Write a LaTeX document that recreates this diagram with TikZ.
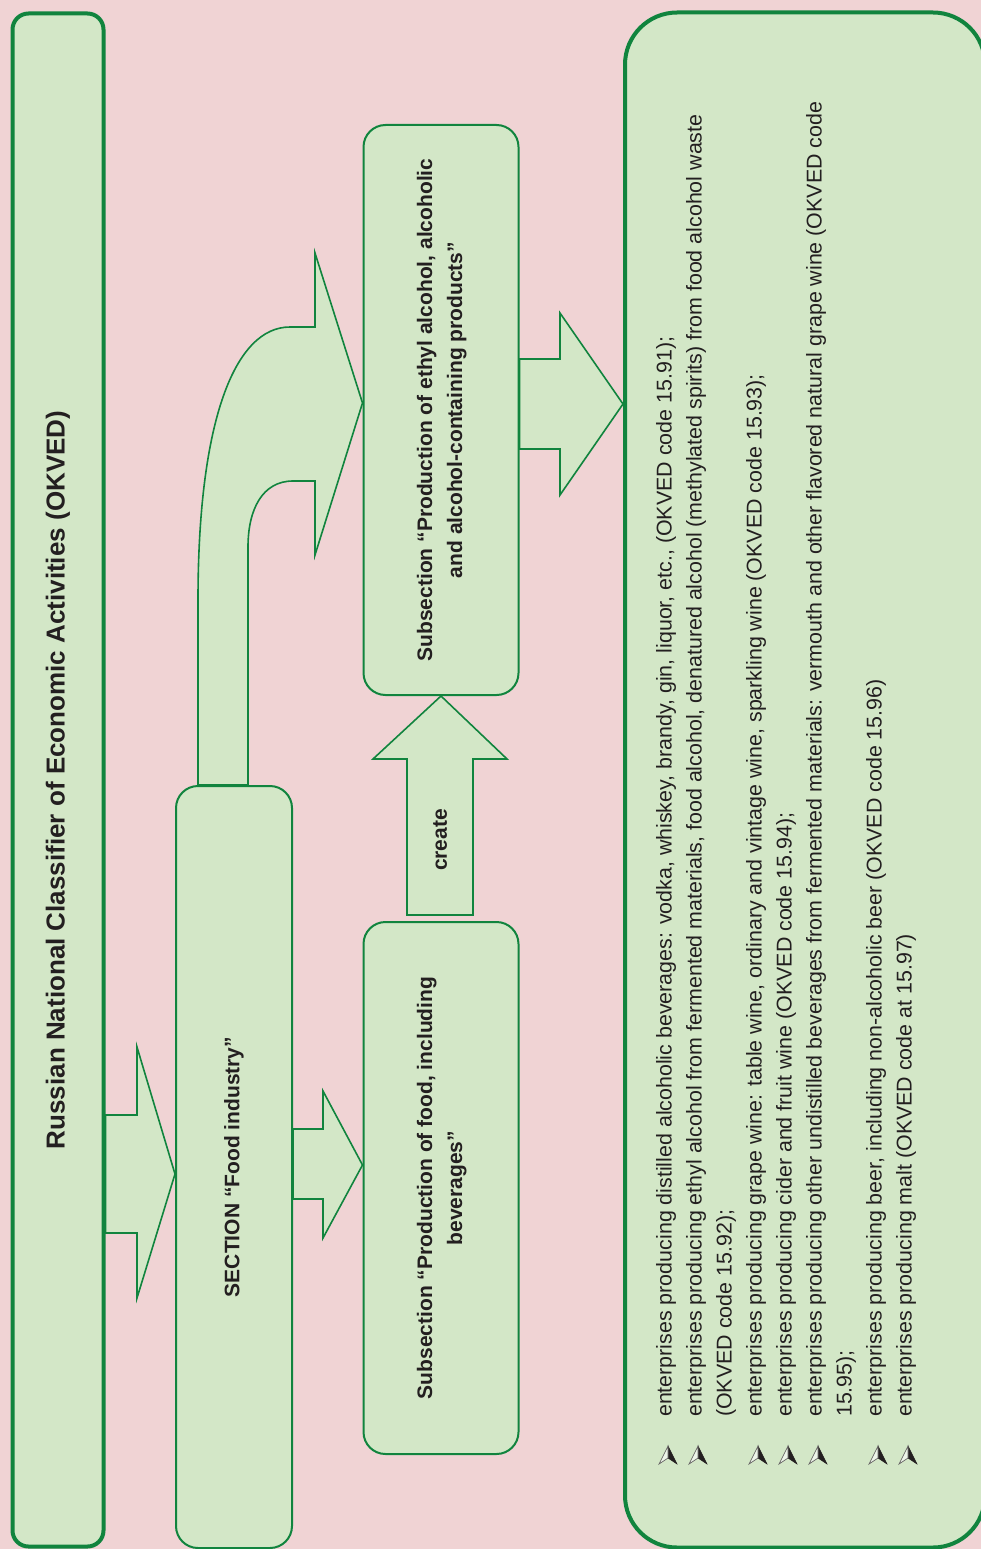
\documentclass[tikz,border=0pt]{standalone}
\usepackage{fontspec}
\setmainfont{Liberation Sans}
\usepackage{graphicx}
\usepackage{tikz}
\usetikzlibrary{positioning,calc}
\definecolor{bgpink}{RGB}{240,211,212}
\definecolor{boxgreen}{RGB}{211,231,199}
\definecolor{linegreen}{RGB}{17,132,62}
\definecolor{textgray}{RGB}{35,31,32}
\tikzset{
	box/.style={draw=linegreen, fill=boxgreen, line width=2pt, rounded corners=22, inner sep=0pt, text=textgray, font=\fontsize{21}{30}\selectfont\bfseries}, % the green boxes
	bigbox/.style={box, line width=4pt}, % the two outer boxes
	barrow/.style={draw=linegreen, fill=boxgreen, line width=1.6pt, line join=miter}, % block arrows
	bodytext/.style={text=textgray, font=\fontsize{21.4}{30}\selectfont, align=left, inner sep=0pt},
}

\begin{document}
\begin{tikzpicture}[x=1pt,y=-1pt]
	\fill[bgpink] (0,0) rectangle (981,1549);
	\useasboundingbox (0,0) rectangle (981,1549);
	\clip (0,0) rectangle (981,1549);

	% boxes
	\node[bigbox, minimum width=91, minimum height=1533, rounded corners=16] (okved) at (58,780) {\rotatebox{90}{\fontsize{26}{30}\selectfont Russian National Classifier of Economic Activities (OKVED)}};
	\node[box, minimum width=116, minimum height=762] (section) at (234,1167) {\rotatebox{90}{SECTION “Food industry”}};
	\node[box, minimum width=155, minimum height=532] (sub1) at (441,1188) {\rotatebox{90}{\begin{tabular}{@{}c@{}}Subsection “Production of food, including\\beverages”\end{tabular}}};
	\node[box, minimum width=155, minimum height=570] (sub2) at (441,410) {\rotatebox{90}{\begin{tabular}{@{}c@{}}Subsection “Production of ethyl alcohol, alcoholic\\and alcohol-containing products”\end{tabular}}};
	\node[bigbox, minimum width=360, minimum height=1535, rounded corners=52] (list) at (805,780) {};

	% arrows
	\draw[barrow] (okved.east |- 0,1115) -| (137,1047) -- (section.west |- 0,1174) -- (137,1298) |- (okved.east |- 0,1233) -- cycle;
	\draw[barrow] (section.east |- 0,1129) -| (323,1091) -- (sub1.west |- 0,1165) -- (323,1238) |- (section.east |- 0,1199) -- cycle;
	\draw[barrow] (407,915) |- (373,759) -- (sub2.south) -- (507,759) -| (473,915) -- cycle;
	\node[rotate=90, text=textgray, font=\fontsize{21}{30}\selectfont\bfseries] (create) at (440,840) {create};
	\draw[barrow] (sub2.east |- 0,359) -| (560,313) -- (list.west |- 0,404) -- (560,495) |- (sub2.east |- 0,449) -- cycle;
	\draw[barrow] (section.north -| 198,0) -- (198,600) .. controls (198,420) and (235,327) .. (290,327) -- (315,327) -- (315,253) -- (sub2.west |- 0,403) -- (315,555) -- (315,481) -- (293,481) .. controls (262,481) and (248,510) .. (248,547) -- (section.north -| 248,0) -- cycle;

	% list of enterprises
	\node[bodytext, rotate=90, anchor=north west] (items) at (656,1417) {enterprises producing distilled alcoholic beverages: vodka, whiskey, brandy, gin, liquor, etc., (OKVED code 15.91);\\
		enterprises producing ethyl alcohol from fermented materials, food alcohol, denatured alcohol (methylated spirits) from food alcohol waste\\
		(OKVED code 15.92);\\
		enterprises producing grape wine: table wine, ordinary and vintage wine, sparkling wine (OKVED code 15.93);\\
		enterprises producing cider and fruit wine (OKVED code 15.94);\\
		enterprises producing other undistilled beverages from fermented materials: vermouth and other flavored natural grape wine (OKVED code\\
		15.95);\\
		enterprises producing beer, including non-alcoholic beer (OKVED code 15.96)\\
		enterprises producing malt (OKVED code at 15.97)};
	\foreach \bx in {668,698,758,788,818,878,908}{
		\filldraw[textgray, line width=0.5pt] (\bx,1446) -- (\bx,1458) -- (\bx+9,1464) -- cycle;
		\filldraw[draw=textgray!70, fill=boxgreen!40, line width=0.7pt] (\bx,1446) -- (\bx,1458) -- (\bx-9,1464) -- cycle;
	}
\end{tikzpicture}
\end{document}
